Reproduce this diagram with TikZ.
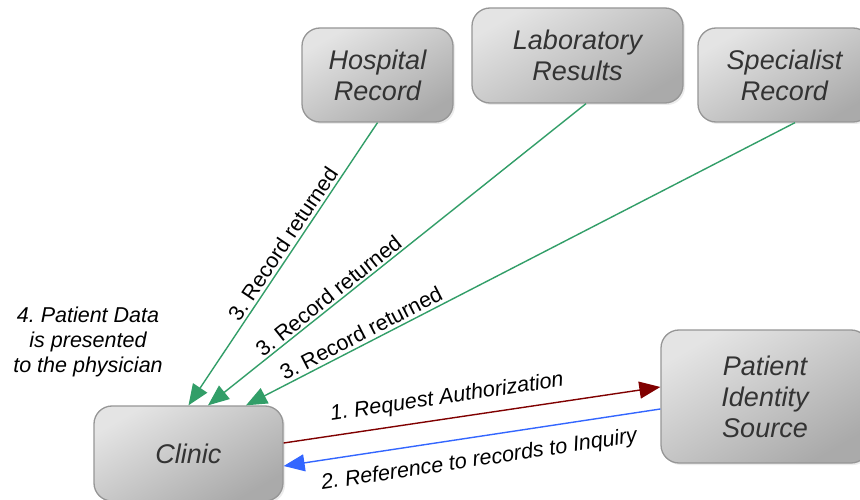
\documentclass[tikz,border=0pt]{standalone}
\usepackage{fontspec}
\setmainfont{Liberation Sans}
\usetikzlibrary{arrows.meta,shadows}
\definecolor{boxlight}{RGB}{228,228,228}
\definecolor{boxdark}{RGB}{170,170,170}
\definecolor{boxborder}{RGB}{150,150,150}
\definecolor{boxtext}{RGB}{51,51,51}
\definecolor{retgreen}{RGB}{50,158,104}
\definecolor{reqred}{RGB}{128,0,0}
\definecolor{refblue}{RGB}{51,102,255}
\frenchspacing
\begin{document}
\begin{tikzpicture}[x=1pt,y=1pt,
  box/.style={rounded corners=18pt, draw=boxborder, line width=1.3pt,
    top color=boxlight, bottom color=boxdark, shading angle=30,
    drop shadow={opacity=0.15, shadow xshift=2pt, shadow yshift=-2pt},
    text=boxtext, font=\fontsize{27}{31}\selectfont\itshape,
    align=center, inner sep=0pt},
  conn/.style={line width=1.4pt, -{Triangle[length=21pt,width=17pt]}},
  lbl/.style={font=\fontsize{21.5}{25}\selectfont, text=black, inner sep=0pt, sloped},
  lbli/.style={lbl, font=\fontsize{21.5}{25}\selectfont\itshape}
]
\useasboundingbox (0,0) rectangle (860,499);
\fill[white] (0,0) rectangle (860,499);

\node[box, minimum width=189pt, minimum height=95pt] (clinic) at (188.5,45.5) {Clinic};
\node[box, minimum width=208pt, minimum height=133pt] (pis) at (765,102.5) {Patient\\Identity\\Source};
\node[box, minimum width=151pt, minimum height=94pt] (hosp) at (377.5,424) {Hospital\\Record};
\node[box, minimum width=211pt, minimum height=95pt] (lab) at (577.5,443.5) {Laboratory\\Results};
\node[box, minimum width=173pt, minimum height=94pt] (spec) at (784.5,424) {Specialist\\Record};

\node[font=\fontsize{21.5}{25}\selectfont\itshape, align=center, inner sep=0pt] (note) at (88,157.5)
  {4. Patient Data\\is presented\\to the physician};

\draw[conn, retgreen] (hosp.south) -- node[lbl, pos=0.45, above=3pt] {3. Record returned} (clinic.north);
\draw[conn, retgreen] ([xshift=8.5pt]lab.south) -- node[lbl, pos=0.664, above=2pt] {3. Record returned} ([xshift=19.5pt]clinic.north);
\draw[conn, retgreen] ([xshift=10.5pt]spec.south) -- node[lbl, pos=0.781, above=3pt] {3. Record returned} ([xshift=57.5pt]clinic.north);
\draw[conn, reqred] ([yshift=10.5pt]clinic.east) -- node[lbli, pos=0.442, above=10pt] {1. Request Authorization} ([yshift=9.5pt]pis.west);
\draw[conn, refblue] ([yshift=-12.5pt]pis.west) -- node[lbli, pos=0.49, below=13pt] {2. Reference to records to Inquiry} ([yshift=-12.5pt]clinic.east);
\end{tikzpicture}
\end{document}
